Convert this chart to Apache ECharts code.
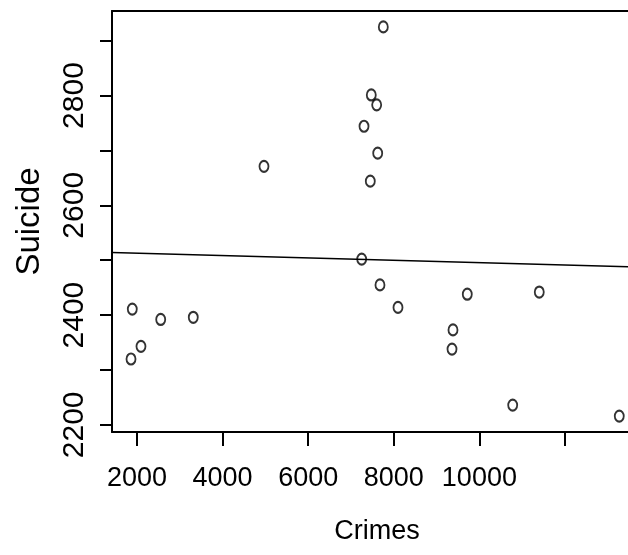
<html lang="en">
    <head>
        <meta charset="UTF-8">
        <title>Suicide vs Crimes</title>
        <script src="https://cdn.jsdelivr.net/npm/echarts@6/dist/echarts.min.js"></script>
        <style>
            body { margin: 0; background: #fff; }
        </style>
    </head>
    <body>
        <div id="chart_1" style="width:628px; height:555px;"></div>
        <script>
            // data
            var crimes  = [1890, 2554, 3315, 2093, 1860, 7755, 7474, 7600, 7304, 7624, 7451,
                           7250, 7677, 8098, 9717, 9383, 9360, 11399, 10778, 13268, 4967];
            var suicide = [2411, 2392, 2396, 2343, 2320, 2925, 2801, 2783, 2744, 2695, 2644,
                           2502, 2455, 2414, 2438, 2373, 2338, 2442, 2236, 2216, 2671];
            // fitted line end points (left and right edge of the plot)
            var fitX = [1416, 13472];
            var fitY = [2514, 2488];

            var xTicks  = [2000, 4000, 6000, 8000, 10000, 12000];
            var xLabels = [2000, 4000, 6000, 8000, 10000];
            var yTicks  = [2200, 2300, 2400, 2500, 2600, 2700, 2800, 2900];
            var yLabels = [2200, 2400, 2600, 2800];

            var points = crimes.map(function (c, i) { return [c, suicide[i]]; });
            var fit = fitX.map(function (x, i) { return [x, fitY[i]]; });

            let myChart = echarts.init(document.getElementById("chart_1"));

            function plain(v) { return String(v); }

            var option = {
                animation: false,
                grid: { left: 112, right: 0, top: 11, bottom: 123 },
                xAxis: [{
                    type: 'value',
                    min: 1416,
                    max: 13472,
                    name: 'Crimes',
                    nameLocation: 'middle',
                    nameGap: 86,
                    nameTextStyle: { fontFamily: 'Liberation Sans', fontSize: 27, color: '#000', padding: [0, 0, 0, 14] },
                    splitLine: { show: false },
                    axisLine: { onZero: false, lineStyle: { color: '#000', width: 2 } },
                    axisTick: { customValues: xTicks, length: 14, lineStyle: { color: '#000', width: 2 } },
                    axisLabel: { customValues: xLabels, formatter: plain, margin: 33, fontFamily: 'Liberation Sans', fontSize: 27, color: '#000' }
                }, {
                    type: 'value',
                    position: 'top',
                    min: 1416,
                    max: 13472,
                    splitLine: { show: false },
                    axisLine: { show: true, lineStyle: { color: '#000', width: 2 } },
                    axisTick: { show: false },
                    axisLabel: { show: false }
                }],
                yAxis: {
                    type: 'value',
                    min: 2187,
                    max: 2954,
                    name: 'Suicide',
                    nameLocation: 'middle',
                    nameGap: 66,
                    nameTextStyle: { fontFamily: 'Liberation Sans', fontSize: 33, color: '#000' },
                    splitLine: { show: false },
                    axisLine: { onZero: false, lineStyle: { color: '#000', width: 2 } },
                    axisTick: { customValues: yTicks, length: 12, lineStyle: { color: '#000', width: 2 } },
                    axisLabel: { customValues: yLabels, formatter: plain, rotate: 90, margin: 22, fontFamily: 'Liberation Sans', fontSize: 30, color: '#000' }
                },
                series: [{
                    type: 'scatter',
                    data: points,
                    symbol: 'circle',
                    symbolSize: [9, 11],
                    itemStyle: { color: 'rgba(255,255,255,0)', borderColor: '#000', borderWidth: 2 }
                }, {
                    type: 'line',
                    data: fit,
                    showSymbol: false,
                    symbol: 'none',
                    lineStyle: { color: '#000', width: 1.5 }
                }]
            };

            myChart.setOption(option);
        </script>
    </body>
</html>
